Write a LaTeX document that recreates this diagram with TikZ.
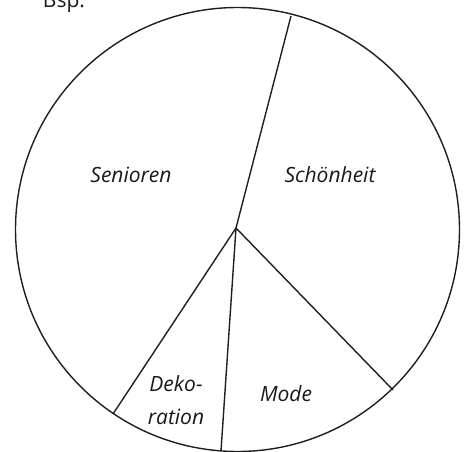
\documentclass[tikz,border=0pt]{standalone}
\usepackage{fontspec}
\setmainfont{Open Sans}
\begin{document}
\begin{tikzpicture}[x=1pt,y=-1pt,
  edge/.style={line width=1.4pt,black!88},
  lbl/.style={font=\fontsize{21}{25}\selectfont\itshape,text=black!90,align=center,inner sep=0pt}]
\useasboundingbox (0,0) rectangle (466,452);
% pie outline
\coordinate (c) at (237.5,229.5);
\draw[edge] (c) circle[radius=222];
% sector boundaries from the hub
\coordinate (hub) at (236,228);
\coordinate (eTop) at (291,16);
\coordinate (eRight) at (393,390);
\coordinate (eBottom) at (221,451);
\coordinate (eLeft) at (113,414);
\draw[edge] (hub) -- (eTop);
\draw[edge] (hub) -- (eRight);
\draw[edge] (hub) -- (eBottom);
\draw[edge] (hub) -- (eLeft);
% labels
\node[lbl] (sen) at (131,175) {Senioren};
\node[lbl] (sch) at (330,175) {Schönheit};
\node[lbl] (dek) at (176,400) {Deko-\\[8pt]ration};
\node[lbl] (mod) at (286,394) {Mode};
\node[font=\fontsize{21}{25}\selectfont,text=black!90,inner sep=0pt] (bsp) at (64,3) {Bsp:};
\end{tikzpicture}
\end{document}
